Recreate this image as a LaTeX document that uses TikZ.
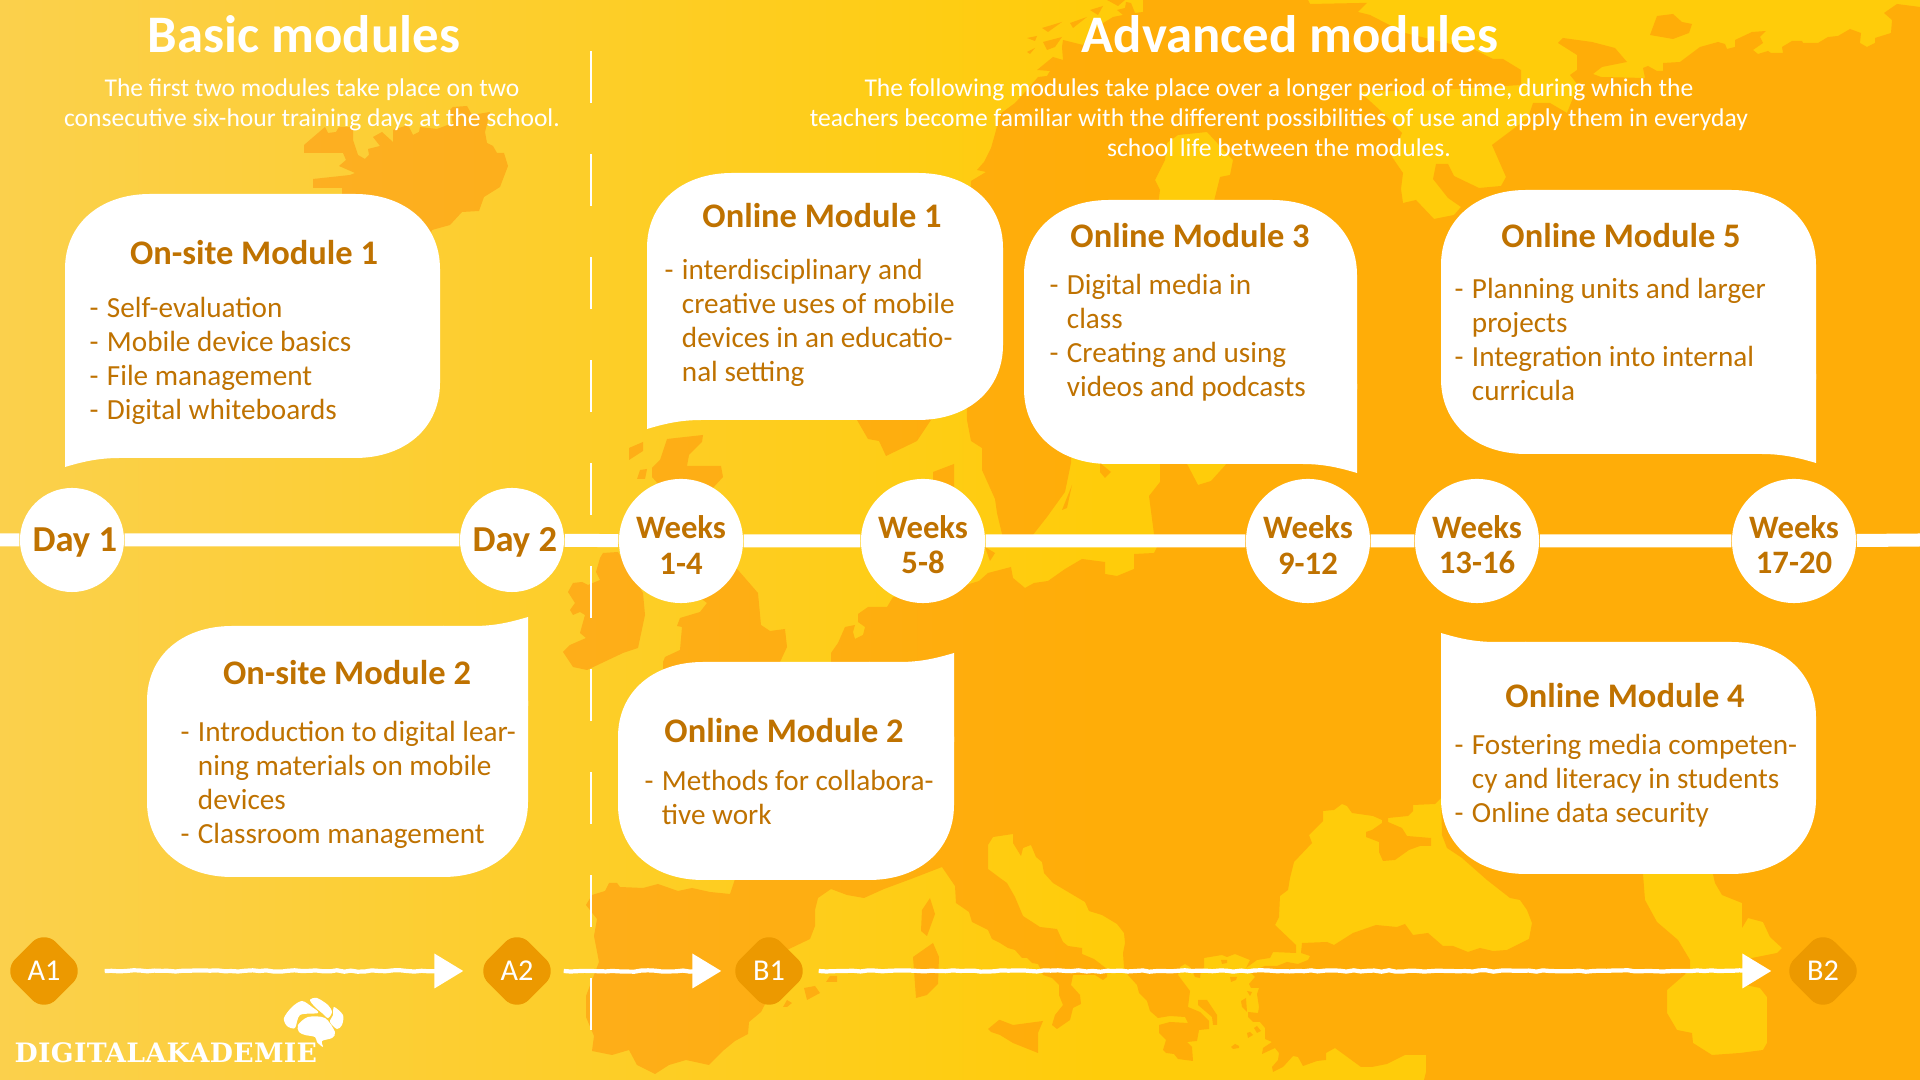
\documentclass[tikz,border=0pt]{standalone}
\usepackage{fontspec}
\setmainfont{Carlito}
\newfontfamily\logofont[LetterSpace=1]{DejaVu Serif}
\usetikzlibrary{arrows.meta,shapes.geometric,decorations.pathmorphing,calc}
\definecolor{seaL}{HTML}{FBD04C}
\definecolor{seaR}{HTML}{FFCC0A}
\definecolor{landL}{HTML}{FCB02C}
\definecolor{landR}{HTML}{FFAD08}
\definecolor{txtbrown}{HTML}{BF7200}
\definecolor{diacol}{HTML}{EC9900}
\newcommand{\mitem}{\makebox[4.9pt][l]{-}}
\newcommand{\mcont}{\hspace*{4.9pt}}
\newcommand{\bubble}[8]{
	\fill[white] (#1+85,#2)--(#3-85,#2) .. controls (#3-35,#2) and (#3,#2+30) .. (#3,#2+75)--(#3,#4-75) .. controls (#3,#4-30) and (#3-35,#4) .. (#3-85,#4)--(#1+85,#4) .. controls (#1+35,#4) and (#1,#4-30) .. (#1,#4-75)--(#1,#2+75) .. controls (#1,#2+30) and (#1+35,#2) .. (#1+85,#2)--cycle;
	\fill[white] (#5,#6-#8*80)--(#5,#6+#8*9) .. controls (#5+#7*20,#6+#8*3) and (#5+#7*35,#6) .. (#5+#7*55,#6)--(#5+#7*85,#6)--(#5+#7*85,#6-#8*80)--cycle;
}
\newcommand{\landmain}{(1920,7)--(1897,4)--(1884,13)--(1892,20)--(1891,33)--(1875,38)--(1875,43)--(1867,47)--(1860,43)--(1861,33)--(1850,29)--(1838,36)--(1828,37)--(1818,43)--(1803,43)--(1802,41)--(1792,41)--(1782,47)--(1783,53)--(1771,53)--(1768,51)--(1758,54)--(1753,50)--(1763,43)--(1760,37)--(1766,31)--(1752,32)--(1735,40)--(1735,47)--(1727,49)--(1725,44)--(1718,42)--(1700,47)--(1680,62)--(1663,63)--(1663,71)--(1657,71)--(1648,66)--(1643,68)--(1645,78)--(1601,77)--(1593,74)--(1602,67)--(1627,62)--(1615,48)--(1592,42)--(1563,38)--(1558,43)--(1577,55)--(1577,70)--(1570,75)--(1578,85)--(1567,113)--(1550,103)--(1533,103)--(1528,118)--(1492,145)--(1506,177)--(1501,186)--(1479,188)--(1454,176)--(1448,164)--(1436,164)--(1433,179)--(1448,198)--(1461,207)--(1454,215)--(1434,219)--(1416,200)--(1403,203)--(1401,189)--(1403,173)--(1392,157)--(1402,133)--(1383,113)--(1360,92)--(1440,90)--(1521,85)--(1521,70)--(1503,59)--(1493,59)--(1475,50)--(1405,33)--(1370,15)--(1358,12)--(1367,3)--(1360,3)--(1310,4)--(1308,0)--(1143,0)--(1143,12)--(1135,13)--(1131,3)--(1126,2)--(1125,8)--(1117,10)--(1123,15)--(1113,17)--(1100,25)--(1088,37)--(1083,45)--(1063,40)--(1062,47)--(1063,60)--(1053,57)--(1037,70)--(1050,71)--(1047,76)--(1038,77)--(1027,90)--(1015,103)--(1000,114)--(995,134)--(991,148)--(984,162)--(977,170)--(986,172)--(971,181)--(965,300)--(967,420)--(971,441)--(982,448)--(982,470)--(995,499)--(997,513)--(1002,534)--(1003,545)--(1025,545)--(1047,517)--(1065,492)--(1071,463)--(1075,300)--(1160,300)--(1160,463)--(1160,482)--(1149,496)--(1154,534)--(1157,547)--(1154,553)--(1134,554)--(1134,569)--(1117,576)--(1105,574)--(1105,562)--(1082,559)--(1065,569)--(1048,581)--(1034,583)--(1025,588)--(1013,578)--(1011,567)--(988,573)--(979,581)--(950,590)--(893,597)--(887,607)--(868,607)--(858,614)--(858,622)--(865,627)--(863,635)--(855,639)--(853,632)--(855,625)--(845,627)--(838,643)--(831,653)--(831,670)--(740,870)--(735,879)--(730,894)--(710,892)--(692,888)--(678,891)--(658,884)--(643,888)--(620,887)--(617,883)--(609,883)--(605,891)--(592,895)--(586,905)--(597,919)--(594,936)--(599,962)--(586,996)--(586,1017)--(594,1036)--(592,1051)--(612,1055)--(629,1050)--(637,1065)--(655,1074)--(669,1065)--(686,1060)--(709,1065)--(724,1050)--(735,1041)--(748,1034)--(749,1022)--(761,1012)--(775,985)--(787,950)--(810,939)--(815,926)--(815,910)--(818,898)--(831,889)--(847,895)--(864,898)--(884,889)--(911,879)--(942,867)--(955,886)--(956,903)--(969,912)--(972,922)--(988,930)--(992,939)--(1000,943)--(1008,948)--(1015,950)--(1022,958)--(1027,958)--(1032,963)--(1038,964)--(1040,968)--(1043,975)--(1052,978)--(1059,985)--(1059,995)--(1063,1005)--(1055,1015)--(1052,1025)--(1057,1029)--(1070,1020)--(1073,1008)--(1081,1004)--(1080,995)--(1071,985)--(1073,975)--(1095,975)--(1103,980)--(1107,977)--(1107,969)--(1094,959)--(1082,954)--(1082,948)--(1068,946)--(1063,942)--(1057,929)--(1040,927)--(1023,916)--(1015,897)--(1007,883)--(1000,878)--(988,869)--(988,845)--(993,837)--(1013,834)--(1013,843)--(1021,856)--(1023,848)--(1031,845)--(1036,857)--(1042,862)--(1044,873)--(1053,883)--(1085,902)--(1089,911)--(1102,915)--(1117,924)--(1124,933)--(1125,943)--(1123,953)--(1124,968)--(1128,975)--(1137,985)--(1139,993)--(1147,1001)--(1150,1011)--(1158,1018)--(1170,1016)--(1185,1017)--(1188,1023)--(1170,1022)--(1159,1025)--(1159,1033)--(1166,1040)--(1163,1050)--(1166,1053)--(1174,1054)--(1178,1059)--(1193,1061)--(1192,1047)--(1187,1042)--(1197,1041)--(1199,1030)--(1209,1029)--(1209,1021)--(1200,1012)--(1188,1007)--(1190,991)--(1178,975)--(1180,967)--(1185,964)--(1190,967)--(1195,977)--(1200,978)--(1201,970)--(1204,968)--(1204,958)--(1222,955)--(1227,957)--(1235,954)--(1250,960)--(1246,968)--(1257,960)--(1270,958)--(1273,952)--(1296,953)--(1296,945)--(1275,925)--(1279,917)--(1280,896)--(1288,890)--(1290,878)--(1294,862)--(1312,843)--(1309,835)--(1323,821)--(1323,811)--(1334,810)--(1342,804)--(1347,806)--(1352,813)--(1373,816)--(1382,820)--(1382,823)--(1372,830)--(1366,832)--(1366,837)--(1379,842)--(1379,852)--(1383,861)--(1395,860)--(1409,850)--(1420,846)--(1431,846)--(1431,838)--(1407,836)--(1402,828)--(1388,822)--(1388,818)--(1408,816)--(1413,811)--(1413,805)--(1435,804)--(1441,798)--(1442,835)--(1447,848)--(1462,858)--(1487,880)--(1510,898)--(1520,900)--(1527,910)--(1532,923)--(1529,939)--(1507,950)--(1493,951)--(1480,948)--(1468,952)--(1453,946)--(1443,946)--(1428,933)--(1413,935)--(1405,924)--(1397,927)--(1376,925)--(1353,933)--(1334,945)--(1327,942)--(1302,943)--(1301,953)--(1310,956)--(1308,960)--(1298,964)--(1287,962)--(1277,966)--(1265,966)--(1250,972)--(1255,977)--(1249,984)--(1251,988)--(1259,988)--(1257,994)--(1259,1007)--(1258,1013)--(1248,1012)--(1248,1017)--(1253,1022)--(1260,1022)--(1265,1028)--(1265,1039)--(1272,1042)--(1263,1048)--(1262,1054)--(1275,1048)--(1279,1053)--(1278,1060)--(1272,1067)--(1273,1072)--(1283,1067)--(1293,1056)--(1298,1057)--(1303,1066)--(1317,1061)--(1326,1060)--(1326,1053)--(1335,1048)--(1361,1067)--(1372,1067)--(1387,1064)--(1405,1055)--(1426,1055)--(1426,1072)--(1424,1080)--(1920,1080)--cycle}
\newcommand{\landmore}{
	(1155,180)--(1165,160)--(1167,143)--(1178,135)--(1207,132)--(1233,160)--(1230,175)--(1220,177)--(1213,205)--(1158,205)--(1160,190)--cycle
	(1643,874)--(1645,900)--(1657,922)--(1678,940)--(1690,960)--(1690,970)--(1667,990)--(1667,1013)--(1677,1030)--(1692,1033)--(1693,1043)--(1712,1055)--(1740,1053)--(1763,1050)--(1767,1043)--(1767,997)--(1760,988)--(1745,985)--(1742,960)--(1777,953)--(1782,948)--(1770,937)--(1763,922)--(1748,918)--(1742,928)--(1742,903)--(1722,895)--(1715,883)--(1712,870)--(1643,870)--cycle
	(1185,460)--(1198,485)--(1211,481)--(1230,460)--cycle
	(304,145)--(325,127)--(328,133)--(336,132)--(339,127)--(353,127)--(353,140)--(358,155)--(365,159)--(369,155)--(368,149)--(380,146)--(373,137)--(382,132)--(393,142)--(393,130)--(408,125)--(413,135)--(419,132)--(420,127)--(437,129)--(453,123)--(450,110)--(453,107)--(467,106)--(472,115)--(490,112)--(485,132)--(487,143)--(493,146)--(497,153)--(504,153)--(508,166)--(500,187)--(484,197)--(479,211)--(462,212)--(450,225)--(432,230)--(425,250)--(340,210)--(342,195)--(342,188)--(313,188)--(313,179)--(350,175)--(355,173)--(339,166)--(346,160)--(343,153)--(304,153)--cycle
	(703,435)--(702,442)--(689,455)--(687,466)--(721,466)--(723,477)--(712,489)--(725,560)--(738,570)--(758,593)--(761,625)--(770,631)--(785,629)--(787,647)--(780,662)--(775,680)--(663,680)--(663,662)--(665,657)--(680,650)--(682,627)--(677,626)--(680,618)--(700,612)--(707,603)--(690,590)--(670,560)--(660,486)--(652,477)--(652,468)--(660,460)--(667,439)--cycle
	(603,553)--(618,552)--(643,593)--(645,615)--(638,648)--(623,653)--(587,670)--(573,667)--(563,652)--(570,645)--(586,638)--(580,633)--(585,615)--(580,612)--(573,615)--(570,610)--(575,603)--(568,592)--(573,583)--(582,582)--(588,585)--(600,580)--(596,572)--(600,558)--cycle
	(629,448)--(643,442)--(643,451)--(629,460)--cycle
	(640,470)--(647,469)--(645,479)--(637,479)--cycle
	(933,472)--(954,464)--(954,490)--(933,490)--cycle
	(857,410)--(857,420)--(868,439)--(879,441)--(886,456)--(917,441)--(931,420)--(931,410)--cycle
	(1100,463)--(1111,472)--(1105,478)--(1100,472)--cycle
	(1062,510)--(1072,485)--(1067,508)--cycle
	(985,547)--(995,553)--(990,561)--cycle
	(1650,35)--(1657,16)--(1673,14)--(1682,22)--(1692,24)--(1689,33)--(1673,39)--cycle
	(1042,28)--(1062,22)--(1048,32)--cycle
	(1070,23)--(1087,17)--(1073,28)--cycle
	(1027,38)--(1037,36)--(1035,41)--cycle
	(1027,52)--(1035,48)--(1030,54)--cycle
	(1043,42)--(1062,37)--(1055,47)--(1047,50)--cycle
	(1090,10)--(1103,6)--(1098,15)--cycle
	(1107,0)--(1125,0)--(1118,6)--cycle
	(922,910)--(930,898)--(935,914)--(927,936)--(921,931)--cycle
	(913,957)--(933,943)--(939,957)--(938,984)--(927,995)--(916,998)--cycle
	(804,988)--(815,986)--(820,993)--(807,1000)--cycle
	(830,976)--(837,976)--(837,982)--(826,982)--cycle
	(787,1000)--(792,1003)--(787,1007)--(783,1007)--cycle
	(1000,1020)--(1013,1025)--(1043,1021)--(1038,1033)--(1038,1053)--(1013,1043)--(1000,1035)--(991,1032)--(988,1029)--(999,1020)--cycle
	(1198,1000)--(1207,1000)--(1217,1015)--(1217,1025)--(1213,1025)--(1212,1017)--(1198,1005)--cycle
	(1241,1001)--(1246,998)--(1247,1012)--(1242,1007)--cycle
	(1247,991)--(1252,992)--(1250,996)--cycle
	(1230,977)--(1237,977)--(1236,980)--(1231,982)--cycle
	(1247,1033)--(1250,1032)--(1253,1035)--(1248,1038)--cycle
	(1254,1028)--(1257,1026)--(1261,1031)--(1257,1033)--cycle
	(1231,1047)--(1235,1044)--(1239,1046)--(1239,1048)--(1233,1049)--cycle
	(1221,960)--(1227,960)--(1227,963)--(1222,964)--cycle
}
\begin{document}
\begin{tikzpicture}[x=0.01cm,y=-0.01cm,
	headtitle/.style={text=white,font=\fontsize{15}{17}\selectfont\bfseries,inner sep=0},
	headtext/.style={text=white,font=\fontsize{7.27}{8.5}\selectfont,align=center,inner sep=0},
	modtitle/.style={text=txtbrown,font=\fontsize{9.8}{11}\selectfont\bfseries,inner sep=0},
	modtext/.style={text=txtbrown,font=\fontsize{8.3}{9.67}\selectfont,align=left,inner sep=0,anchor=north west},
	dayc/.style={circle,fill=white,minimum size=1.04cm,inner sep=0,text=txtbrown,font=\fontsize{10.4}{10}\selectfont\bfseries,align=center},
	weekc/.style={dayc,minimum size=1.24cm,font=\fontsize{9.3}{10.2}\selectfont\bfseries},
	levelc/.style={diamond,fill=diacol,minimum size=0.82cm,inner sep=0,rounded corners=4.8pt,text=white,font=\fontsize{8.6}{10}\selectfont},
	tline/.style={white,line width=3.7pt},
	chalk/.style={white,line width=1.2pt,-{Triangle[length=8.2pt,width=9.6pt]},decorate,decoration={random steps,segment length=2pt,amplitude=0.2pt,post length=6pt}},
	sepline/.style={white,line width=0.45pt,dash pattern=on 14.8pt off 14.5pt},
	]
	\useasboundingbox (0,0) rectangle (1920,1080);
	\pgfmathsetseed{7}
	\shade[left color=seaL,right color=seaR] (0,0) rectangle (1100,1080);
	\fill[seaR] (1100,0) rectangle (1920,1080);
	\begin{scope}[even odd rule]
		\clip \landmain \landmore;
		\shade[left color=landL,right color=landR] (0,0) rectangle (1100,1080);
		\fill[landR] (1100,0) rectangle (1920,1080);
	\end{scope}
	\path (591,51) coordinate (sepA)
	(591,1035) coordinate (sepB)
	(0,540) coordinate (tlA)
	(1920,540) coordinate (tlB)
	;
	\draw[sepline] (sepA)--(sepB);
	\foreach \n/\x/\t in {day1/72/Day 1,day2/512/Day 2}{\node[dayc] (\n) at (\x,540) {\hspace*{1.6pt}\rule{0pt}{8.4pt}\t};}
	\foreach \n/\x/\t in {wk1/681/1-4,wk2/923/5-8,wk3/1308/9-12,wk4/1477/13-16,wk5/1794/17-20}{\node[weekc] (\n) at (\x,541) {\rule{0pt}{8.6pt}Weeks\\\t};}
	\draw[tline] (tlA)--(day1) (day1)--(day2) (day2)--(wk1) (wk1)--(wk2) (wk2)--(wk3) (wk3)--(wk4) (wk4)--(wk5) (wk5)--(tlB);
	\bubble{65}{194}{440}{458}{65}{458}{1}{1}
	\bubble{647}{173}{1003}{420}{647}{420}{1}{1}
	\bubble{1024}{200}{1357}{464}{1357}{464}{-1}{1}
	\bubble{1441}{190}{1816}{454}{1816}{454}{-1}{1}
	\bubble{147}{626}{528}{877}{528}{626}{-1}{-1}
	\bubble{618}{662}{954}{880}{954}{662}{-1}{-1}
	\bubble{1441}{642}{1816}{874}{1441}{642}{1}{-1}
	\node[headtitle] (basic) at (304,34) {Basic modules};
	\node[headtitle] (advanced) at (1290,34) {Advanced modules};
	\node[headtext] (basictxt) at (312,105) {The first two modules take place on two\\consecutive six-hour training days at the school.};
	\node[headtext] (advtxt) at (1279,118) {The following modules take place over a longer period of time, during which the\\teachers become familiar with the different possibilities of use and apply them in everyday\\school life between the modules.};
	\foreach \n/\x/\y/\t in {t1/254/253/On-site Module 1,t2/347/673/On-site Module 2,t3/822/216/Online Module 1,t4/784/731/Online Module 2,t5/1190/236/Online Module 3,t6/1625/696/Online Module 4,t7/1621/236/Online Module 5}{\node[modtitle] (\n) at (\x,\y) {\t};}
	\node[modtext] (b1) at (89,297) {\mitem Self-evaluation\\\mitem Mobile device basics\\\mitem File management\\\mitem Digital whiteboards};
	\node[modtext] (b2) at (180,721) {\mitem Introduction to digital lear-\\\mcont ning materials on mobile\\\mcont devices\\\mitem Classroom management};
	\node[modtext] (b3) at (664,259) {\mitem interdisciplinary and\\\mcont creative uses of mobile\\\mcont devices in an educatio-\\\mcont nal setting};
	\node[modtext] (b4) at (644,770) {\mitem Methods for collabora-\\\mcont tive work};
	\node[modtext] (b5) at (1049,274) {\mitem Digital media in\\\mcont class\\\mitem Creating and using\\\mcont videos and podcasts};
	\node[modtext] (b6) at (1454,734) {\mitem Fostering media competen-\\\mcont cy and literacy in students\\\mitem Online data security};
	\node[modtext] (b7) at (1454,278) {\mitem Planning units and larger\\\mcont projects\\\mitem Integration into internal\\\mcont curricula};
	\foreach \n/\x in {A1/44,A2/517,B1/769,B2/1823}{\node[levelc] (\n) at (\x,971) {\n};}
	\foreach \a/\b/\s/\e in {A1/A2/19/12,A2/B1/5/6,B1/B2/8/10}{\draw[chalk] ($(\a.east)+(\s,0)$)--($(\b.west)+(-\e,0)$);}
	\node[text=white,font=\logofont\fontsize{7.6}{10}\selectfont\bfseries,anchor=base west,inner sep=0] (logo) at (14,1063) {DIGITALAKADEMIE};
	\fill[white] plot[smooth cycle] coordinates {(284,1018) (292,1007) (302,1001) (312,1007) (318,1013) (300,1015) (295,1028) (287,1026)};
	\fill[white] plot[smooth cycle] coordinates {(310,1000) (317,998) (328,1005) (332,1012) (328,1018) (322,1013) (315,1007)};
	\fill[white] plot[smooth cycle] coordinates {(334,1007) (343,1015) (342,1025) (337,1029) (330,1022) (333,1015)};
	\fill[white] plot[smooth cycle] coordinates {(298,1025) (308,1017) (325,1018) (335,1032) (332,1038) (322,1041) (323,1047) (317,1042) (315,1037) (305,1035) (299,1032)};
\end{tikzpicture}
\end{document}
